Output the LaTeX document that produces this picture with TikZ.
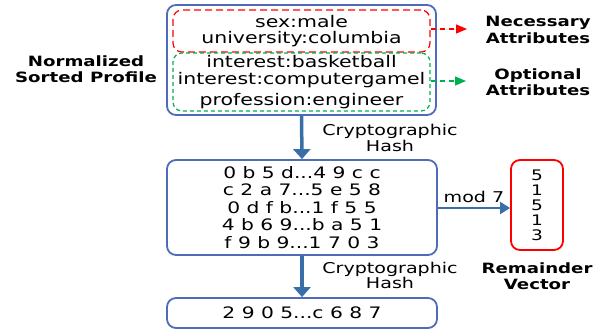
\documentclass[tikz,border=0pt]{standalone}
\usepackage{fontspec}
\setmainfont[FakeStretch=1.28]{DejaVu Sans}
\usetikzlibrary{arrows.meta}
\definecolor{boxblue}{RGB}{79,108,184}
\definecolor{arrblue}{RGB}{58,110,168}
\definecolor{dgreen}{RGB}{0,176,80}
\tikzset{
  bluebox/.style={draw=boxblue, line width=1.8pt, rounded corners=9pt, inner sep=0pt, align=center},
  redbox/.style={draw=red, line width=1.2pt, dash pattern=on 7pt off 4pt, rounded corners=9pt, inner sep=0pt, align=center},
  greenbox/.style={draw=dgreen, line width=1.2pt, dash pattern=on 4pt off 3pt, rounded corners=9pt, inner sep=0pt, align=center},
  bigarrow/.style={draw=arrblue, line width=3.5pt, -{Triangle[width=17pt,length=10pt]}},
  dasharrow/.style={line width=1.2pt, dash pattern=on 5pt off 4pt, -{Triangle[width=9pt,length=11pt]}},
  lbl/.style={font=\bfseries\fontsize{14.2}{16.5}\selectfont, align=center, inner sep=0pt},
  txt/.style={font=\fontsize{14.9}{15.5}\selectfont, align=center, inner sep=0pt},
}
\begin{document}
\begin{tikzpicture}[x=1pt,y=-1pt]
\useasboundingbox (0,0) rectangle (609,335);
% profile
\node[bluebox, minimum width=269pt, minimum height=110pt] (outer) at (301.5,60) {};
\node[redbox, minimum width=257pt, minimum height=42pt, font=\fontsize{16}{16.5}\selectfont] (nec) at (301.5,31) {sex:male\\university:columbia};
\node[greenbox, minimum width=257pt, minimum height=58pt, font=\fontsize{16}{17}\selectfont] (opt) at (301.5,82) {interest:basketball\\interest:computergamel\\[4pt]profession:engineer};
\node[lbl] (prof) at (86,69) {Normalized\\Sorted Profile};
\coordinate (necend) at (467,29);
\coordinate (optend) at (466,81);
\draw[dasharrow, draw=red, fill=red] (nec.east |- necend) -- (necend);
\draw[dasharrow, draw=dgreen, fill=dgreen] (opt.east |- optend) -- (optend);
\node[lbl] (neclbl) at (538,30) {Necessary\\Attributes};
\node[lbl] (optlbl) at (538,82) {Optional\\Attributes};
% hash box
\node[bluebox, minimum width=270pt, minimum height=95pt, font=\fontsize{15.8}{17.5}\selectfont] (hash) at (302,207.5)
  {0 b 5 d...4 9 c c\\c 2 a 7...5 e 5 8\\0 d f b...1 f 5 5\\4 b 6 9...b a 5 1\\f 9 b 9...1 7 0 3};
\draw[bigarrow] (outer.south) -- (hash.north);
\node[txt] (ch1) at (390,138) {Cryptographic\\Hash};
% remainder
\node[draw=red, line width=1.8pt, rounded corners=9pt, minimum width=52pt, minimum height=90pt, inner sep=0pt, align=center, font=\fontsize{14.5}{15}\selectfont] (rem) at (537,205) {5\\1\\5\\1\\3};
\coordinate (modrow) at (0,208);
\draw[draw=arrblue, line width=2pt, -{Triangle[width=12pt,length=10pt]}] (hash.east |- modrow) -- (rem.west |- modrow) node[midway, above=4pt, txt] (modlbl) {mod 7};
\node[lbl] (remlbl) at (537,276) {Remainder\\Vector};
% final
\node[bluebox, minimum width=270pt, minimum height=30pt, font=\fontsize{15.8}{16}\selectfont] (final) at (302,313) {2 9 0 5...c 6 8 7};
\draw[bigarrow] (hash.south) -- (final.north);
\node[txt] (ch2) at (390,275.5) {Cryptographic\\Hash};
\end{tikzpicture}
\end{document}
